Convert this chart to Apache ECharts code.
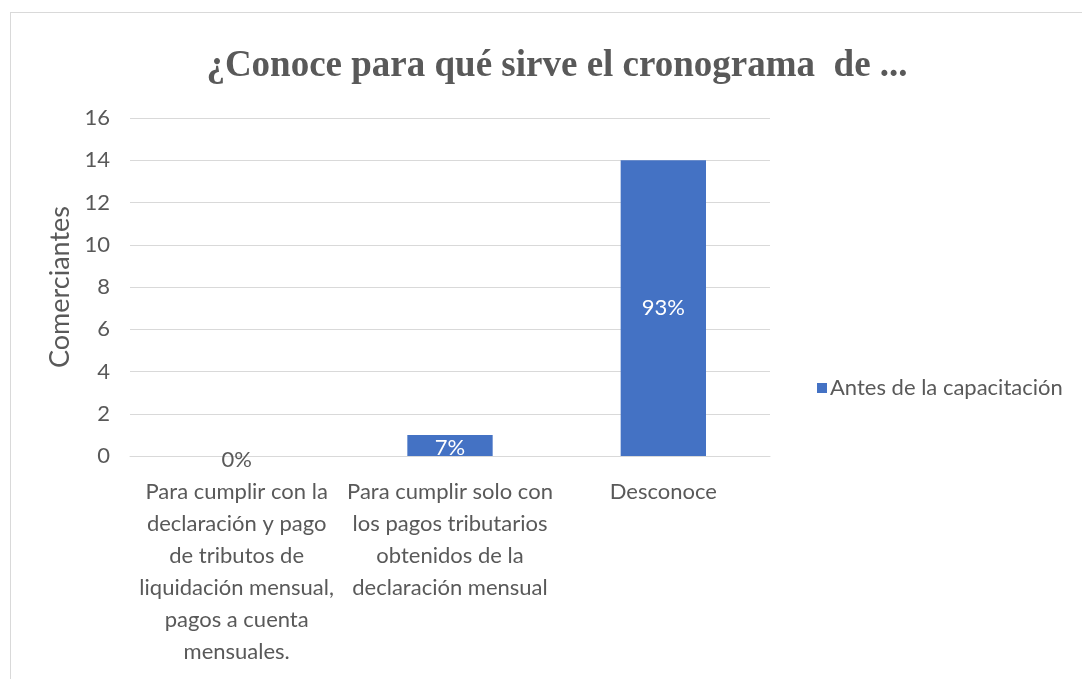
<!DOCTYPE html>
<html><head><meta charset="utf-8">
<script src="https://cdn.jsdelivr.net/npm/echarts@6/dist/echarts.min.js"></script>
<style>
html,body{margin:0;padding:0;background:#fff;}
#frame{position:absolute;left:10px;top:12px;width:1100px;height:700px;border-top:1px solid #d9d9d9;border-left:1px solid #d9d9d9;}
#main{position:absolute;left:0;top:0;width:1082px;height:679px;}
</style></head>
<body>
<div id="frame"></div>
<div id="main"></div>
<script>
const categories = [
  "Para cumplir con la\ndeclaración y pago\nde tributos de\nliquidación mensual,\npagos a cuenta\nmensuales.",
  "Para cumplir solo con\nlos pagos tributarios\nobtenidos de la\ndeclaración mensual",
  "Desconoce"
];
const seriesName = "Antes de la capacitación";
const values = [0, 1, 14];
const percentLabels = ["0%", "7%", "93%"];
const yTicks = { min: 0, max: 16, interval: 2 };

const chart = echarts.init(document.getElementById('main'), null, {renderer: 'canvas'});
const font = 'Lato, "Noto Sans", sans-serif';
chart.setOption({
  animation: false,
  title: {
    text: '¿Conoce para qué sirve el cronograma  de ...',
    left: 552, top: 43, textAlign: 'center',
    textStyle: { fontFamily: '"Liberation Serif", serif', fontWeight: 'bold', fontSize: 37, color: '#595959' }
  },
  legend: {
    orient: 'vertical', left: 812, top: 372,
    itemWidth: 10, itemHeight: 10, itemGap: 8, icon: 'rect',
    textStyle: { fontFamily: font, fontSize: 22, color: '#595959', padding: [0,0,0,-2] },
    data: [seriesName]
  },
  grid: { left: 130, right: 312, top: 118, bottom: 223, containLabel: false },
  xAxis: {
    type: 'category', data: categories,
    axisLine: { lineStyle: { color: '#d9d9d9', width: 1 } },
    axisTick: { show: false },
    axisLabel: { interval: 0, fontFamily: font, fontSize: 22, color: '#595959', lineHeight: 32, margin: 20 }
  },
  yAxis: {
    type: 'value', min: yTicks.min, max: yTicks.max, interval: yTicks.interval,
    name: 'Comerciantes', nameLocation: 'middle', nameGap: 55,
    nameTextStyle: { fontFamily: font, fontSize: 27, color: '#595959' },
    axisLine: { show: false }, axisTick: { show: false },
    axisLabel: { fontFamily: font, fontSize: 22, color: '#595959', margin: 20 },
    splitLine: { lineStyle: { color: '#d9d9d9', width: 1 } }
  },
  series: [{
    name: seriesName, type: 'bar', barWidth: '40%',
    itemStyle: { color: '#4472C4' },
    data: values.map((v, i) => ({
      value: v,
      label: {
        show: true, position: 'inside',
        formatter: percentLabels[i],
        fontFamily: font, fontSize: 22,
        color: v === 0 ? '#595959' : '#ffffff',
        offset: v === 0 ? [0, 4] : (i === 1 ? [0, 2] : [0, 0])
      }
    }))
  }]
});
</script>
</body></html>
